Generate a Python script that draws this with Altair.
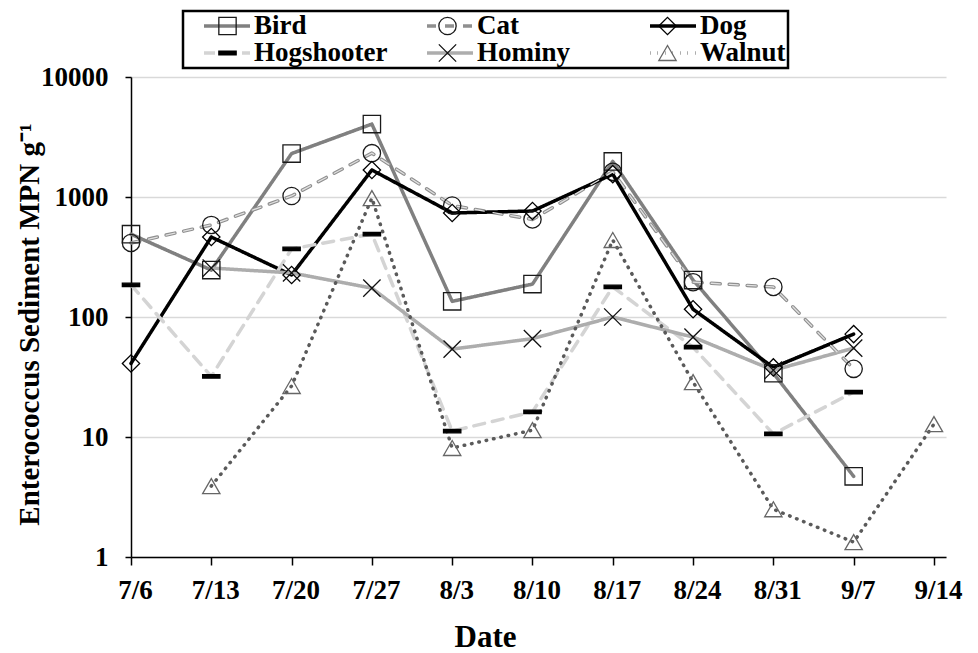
import json
import altair as alt
import pandas as pd

dates = ["7/6", "7/13", "7/20", "7/27", "8/3", "8/10", "8/17", "8/24", "8/31", "9/7", "9/14"]
series = ["Bird", "Cat", "Dog", "Hogshooter", "Hominy", "Walnut"]

bird = [490, 246, 2300, 4050, 135, 188, 1980, 203, 34, 4.7, None]
cat = [414, 585, 1020, 2320, 850, 650, 1620, 195, 178, 37, None]
dog = [41, 464, 224, 1680, 736, 764, 1550, 116, 38, 72, None]
hogshooter = [185, 32, 369, 491, 11.2, 16.2, 178, 56, 10.6, 23.7, None]
hominy = [None, 256, 233, 174, 54, 66, 100, 68, 36, 55, None]
walnut = [None, 3.9, 26.6, 980, 8.1, 11.4, 438, 28.7, 2.5, 1.33, 12.8]

values = {"Bird": bird, "Cat": cat, "Dog": dog, "Hogshooter": hogshooter,
          "Hominy": hominy, "Walnut": walnut}

rows = []
for s in series:
    for i, v in enumerate(values[s]):
        if v is not None:
            rows.append({"series": s, "series_m": s, "idx": i, "date": dates[i], "value": v})
df = pd.DataFrame(rows)

FONT = "Liberation Serif"

line_colors = ["#808080", "#8f8f8f", "#000000", "#d4d4d4", "#adadad", "#5a5a5a"]
line_dashes = [[1, 0], [9, 9], [1, 0], [11, 8], [1, 0], [0.5, 7]]
shapes = ["square", "circle", "diamond", "M-1,-0.2H1V0.2H-1Z", "M-1,-1L1,1M-1,1L1,-1", "triangle-up"]
marker_strokes = ["#1a1a1a", "#1a1a1a", "#000000", "#000000", "#111111", "#666666"]
marker_fills = ["transparent", "transparent", "transparent", "#000000", "transparent", "transparent"]

NBSP = "\u00a0"
line_legend = alt.Legend(
    title=None, orient="none", legendX=52, legendY=-66, direction="horizontal", columns=3,
    symbolType="stroke", symbolSize=2116, symbolStrokeWidth=3.5, clipHeight=26,
    labelFont=FONT, labelFontSize=27, labelFontWeight="bold", labelColor="black",
    labelExpr="datum.label == 'Walnut' ? datum.label + '" + NBSP * 5 + "' : datum.label",
    labelLimit=400, labelOffset=2, symbolOffset=17, gridAlign="all",
    columnPadding=20, rowPadding=0, padding=2, strokeColor="black",
)
marker_legend = alt.Legend(
    title=None, orient="none", legendX=61, legendY=-66, direction="horizontal", columns=3,
    symbolSize=300, symbolStrokeWidth=1.3, clipHeight=26,
    labelExpr="''", labelFontSize=27,
    labelLimit=400, labelOffset=0, symbolOffset=20, gridAlign="all",
    columnPadding=173, rowPadding=0, padding=2,
)

xlabels = "[" + ",".join(json.dumps(d) for d in dates) + "][datum.value]"

x = alt.X("idx:Q", title="Date",
          scale=alt.Scale(domain=[0, 10.15], nice=False, zero=False),
          axis=alt.Axis(values=list(range(len(dates))), labelExpr=xlabels, grid=False,
                        tickSize=8, labelPadding=12, labelFlush=False, labelOffset=4,
                        titleX=354, titleY=89, titleBaseline="alphabetic",
                        titleFontSize=31))
y = alt.Y("value:Q", title="Enterococcus Sediment MPN g⁻¹",
          scale=alt.Scale(type="log", domain=[1, 10000], nice=False),
          axis=alt.Axis(values=[1, 10, 100, 1000, 10000], format="d", grid=True,
                        tickSize=6, labelPadding=17,
                        titleX=-93, titleY=247, titleBaseline="alphabetic",
                        titleFontSize=29))

lines = alt.Chart(df).mark_line(strokeWidth=3.5, strokeCap="round", strokeJoin="round").encode(
    x=x, y=y,
    color=alt.Color("series:N", scale=alt.Scale(domain=series, range=line_colors), legend=line_legend),
    strokeDash=alt.StrokeDash("series:N", scale=alt.Scale(domain=series, range=line_dashes), legend=line_legend),
    detail="series:N",
)

# light core inside the Cat dashes (hollow-dash look)
cat_core = alt.Chart(df).transform_filter(alt.datum.series == "Cat").mark_line(
    strokeWidth=1.3, strokeCap="round", strokeJoin="round", color="#e0e0e0", strokeDash=[9, 9]
).encode(x=x, y=y)

# marker scales take their domain from the data (alphabetical = series order),
# so their legend stays separate from the line legend
points = alt.Chart(df).mark_point(size=300, strokeWidth=1.3, opacity=1).encode(
    x=x, y=y,
    shape=alt.Shape("series_m:N", scale=alt.Scale(range=shapes), legend=marker_legend),
    stroke=alt.Stroke("series_m:N", scale=alt.Scale(range=marker_strokes), legend=marker_legend),
    fill=alt.Fill("series_m:N", scale=alt.Scale(range=marker_fills), legend=marker_legend),
)

chart = alt.layer(lines, cat_core, points).properties(
    width=815, height=480,
    autosize=alt.AutoSizeParams(type="none"),
    padding={"left": 131, "top": 77, "right": 32, "bottom": 96},
    background="white",
).configure_view(stroke=None).configure_axis(
    labelFont=FONT, labelFontSize=27, labelFontWeight="bold", labelColor="black",
    titleFont=FONT, titleFontWeight="bold", titleColor="black",
    domainColor="black", domainWidth=1.5, tickColor="black", tickWidth=1.5,
    gridColor="#d9d9d9", gridWidth=1.5,
).configure_legend(strokeWidth=2.5)

chart.save("out.html", embed_options={"renderer": "svg", "actions": False})
